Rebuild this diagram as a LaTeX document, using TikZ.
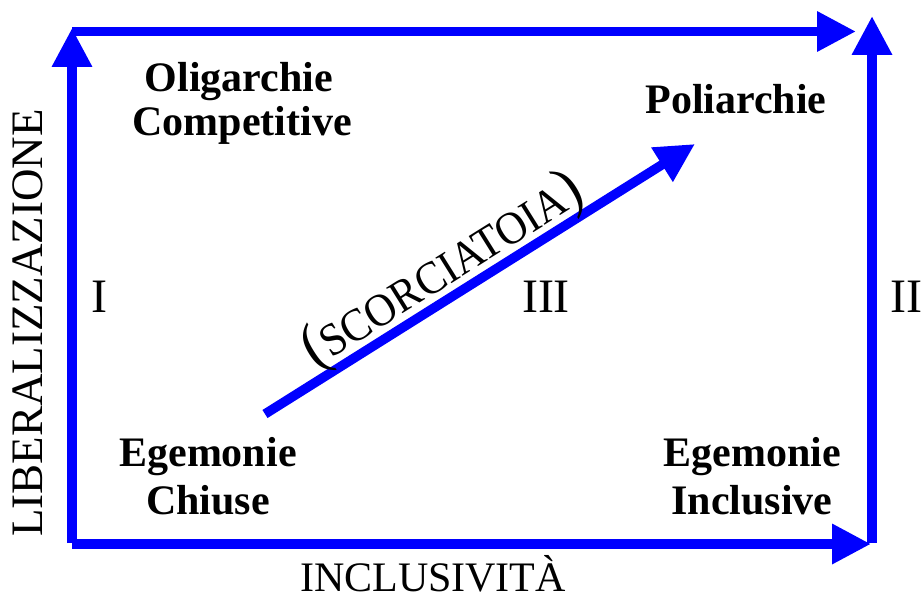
\documentclass[tikz,border=0pt]{standalone}
\usepackage{fontspec}
\setmainfont{Liberation Serif}
\usetikzlibrary{arrows.meta}
\definecolor{axisblue}{RGB}{0,0,255}
\tikzset{
  axis/.style={draw=axisblue, line width=9.5pt, -{Triangle[length=39pt,width=38pt]}},
  lbl/.style={font=\fontsize{42}{48}\selectfont\bfseries, anchor=base, inner sep=0pt},
  axlbl/.style={font=\fontsize{42}{48}\selectfont, anchor=base, inner sep=0pt},
  numlbl/.style={font=\fontsize{48}{52}\selectfont, anchor=base, inner sep=0pt}
}
\begin{document}
\begin{tikzpicture}[x=1pt,y=-1pt]
\useasboundingbox (0,0) rectangle (923,596);
% corner coordinates
\coordinate (bl) at (72,543);
\coordinate (tlv) at (72,28);
\coordinate (tlh) at (72,31.5);
\coordinate (trh) at (856,31.5);
\coordinate (brv) at (872,543);
\coordinate (trv) at (872,16);
\coordinate (blh) at (72,544);
\coordinate (brh) at (871,544);
\coordinate (s0) at (265,414);
\coordinate (s1) at (695,144);
% axes
\draw[axis] (bl) -- (tlv);
\draw[axis] (tlh) -- (trh);
\draw[axis] (brv) -- (trv);
\draw[axis] (blh) -- (brh);
\draw[axis] (s0) -- (s1);
% labels
\node[lbl] (olA) at (239,92) {Oligarchie};
\node[lbl] (olB) at (242,136) {Competitive};
\node[lbl] (pol) at (736,114) {Poliarchie};
\node[lbl] (egA) at (208,466) {Egemonie};
\node[lbl] (egB) at (208,514) {Chiuse};
\node[lbl] (eiA) at (752,466) {Egemonie};
\node[lbl] (eiB) at (752,514) {Inclusive};
\node[axlbl] (incl) at (433,591) {INCLUSIVITÀ};
\node[axlbl, font=\fontsize{45}{48}\selectfont, rotate=90] (lib) at (42,323) {LIBERALIZZAZIONE};
\node[numlbl] (n1) at (99,312) {I};
\node[numlbl] (n3) at (546,312) {III};
\node[numlbl] (n2) at (906,312) {II};
\node[anchor=base, inner sep=0pt, rotate=32, font=\fontsize{46}{50}\selectfont] (scor) at (451,284)
  {\scalebox{0.93}[1]{{\fontsize{62}{62}\selectfont(}SCORCIATOIA{\fontsize{62}{62}\selectfont)}}};
\end{tikzpicture}
\end{document}
